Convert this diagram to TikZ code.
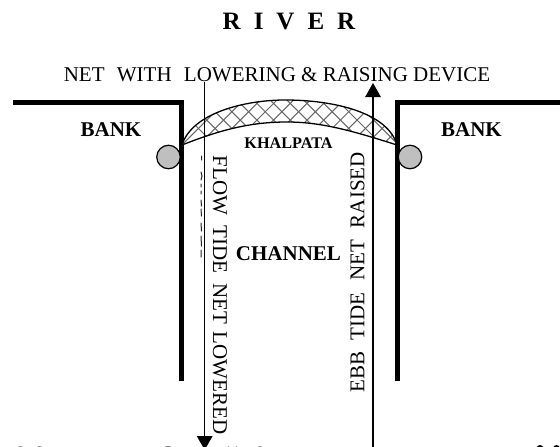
\documentclass[tikz,border=0pt]{standalone}
\usepackage{fontspec}
\setmainfont{Liberation Serif}
\usetikzlibrary{arrows.meta}
\begin{document}
\begin{tikzpicture}[x=1pt,y=-1pt,
  bankline/.style={line width=5pt,line cap=butt,line join=miter},
  flowline/.style={line width=1.5pt,-{Triangle[length=14pt,width=15.5pt]}},
  post/.style={circle,draw,line width=1.2pt,fill=black!25,minimum size=23.5pt,inner sep=0pt},
  toptext/.style={font=\fontsize{21}{22}\selectfont,inner sep=0pt},
  sidetext/.style={font=\fontsize{21}{22}\selectfont,inner sep=0pt},
  banktext/.style={font=\bfseries\fontsize{21}{22}\selectfont,inner sep=0pt},
  scrap/.style={line width=1pt,black!85,line cap=round}]
\useasboundingbox (0,0) rectangle (560,447);
\clip (0,0) rectangle (560,447);
\fill[white] (0,0) rectangle (560,447);
\node[font=\bfseries\fontsize{25}{27}\selectfont,inner sep=0pt] (river) at (289,21.5) {R\hspace{13pt}I\hspace{13pt}V\hspace{13pt}E\hspace{13pt}R};
\node[toptext] (net) at (277,75) {NET\hspace{7pt} WITH\hspace{7pt} LOWERING \& RAISING DEVICE};
\coordinate (ltop) at (13,102);
\coordinate (lcor) at (181.5,102);
\coordinate (lend) at (181.5,381);
\coordinate (rtop) at (560,102);
\coordinate (rcor) at (397,102);
\coordinate (rend) at (397,381);
\draw[bankline] (ltop) -- (lcor) -- (lend);
\draw[bankline] (rtop) -- (rcor) -- (rend);
\node[post] (pl) at (168.5,157) {};
\node[post] (pr) at (410,157) {};
\coordinate (al) at (182,145);
\coordinate (ar) at (397,145);
\begin{scope}
\clip (al) .. controls (192,113) and (245,100) .. (285,100)
       .. controls (335,100) and (388,113) .. (ar)
       .. controls (350,130) and (320,122) .. (287,122)
       .. controls (250,122) and (220,130) .. (al) -- cycle;
\foreach \k in {0,...,30}{
  \draw[line width=1pt,black!60] ({140+\k*16.7},70) -- ++(100,100);
  \draw[line width=1pt,black!60] ({140+\k*16.7},70) -- ++(-100,100);
}
\end{scope}
\draw[line width=1.3pt]
  (al) .. controls (192,113) and (245,100) .. (285,100)
       .. controls (335,100) and (388,113) .. (ar)
       .. controls (350,130) and (320,122) .. (287,122)
       .. controls (250,122) and (220,130) .. (al) -- cycle;
\coordinate (a1) at (204.7,82);
\coordinate (a2) at (204.7,450);
\coordinate (b1) at (373,447);
\coordinate (b2) at (373,83);
\draw[flowline] (a1) -- (a2);
\draw[flowline,line width=1.2pt] (b1) -- (b2);
\node[banktext] (bl) at (111,130) {BANK};
\node[banktext] (br) at (471.5,130) {BANK};
\node[font=\bfseries\fontsize{16.2}{18}\selectfont,inner sep=0pt] (kh) at (288.5,143.5) {KHALPATA};
\node[font=\bfseries\fontsize{21}{22}\selectfont,inner sep=0pt] (ch) at (288.5,254) {CHANNEL};
\node[sidetext,rotate=-90,anchor=center] (fl) at (220,295) {FLOW\hspace{5pt} TIDE\hspace{5pt} NET\hspace{2pt} LOWERED};
\node[sidetext,rotate=90,anchor=center] (eb) at (357.5,272.5) {EBB\hspace{6.5pt} TIDE\hspace{6.5pt} NET\hspace{6.5pt} RAISED};
\draw[scrap] (201.5,156) -- (201.5,160) (201,172) -- (202,176) -- (201,180)
  (201,184) -- (201,187) (201,191) -- (201,194) (201,200) -- (201.5,206)
  (201,209) -- (201.5,216) (201,223) -- (201.5,231) (201,236) -- (201.5,246) (201,250) -- (201,257);
\fill (540,448.5) ellipse (3.5 and 3.5) (556.5,448.5) ellipse (3.5 and 3.5);
\fill[black!45] (20.5,447.5) ellipse (2.5 and 1.5) (39.5,447.5) ellipse (2.5 and 1.5)
  (168,447.5) ellipse (4 and 1.5) (228.5,447.5) ellipse (1.5 and 1.5) (236.5,447.5) ellipse (1.5 and 1.5) (260,447.5) ellipse (2 and 1.5);
\end{tikzpicture}
\end{document}
